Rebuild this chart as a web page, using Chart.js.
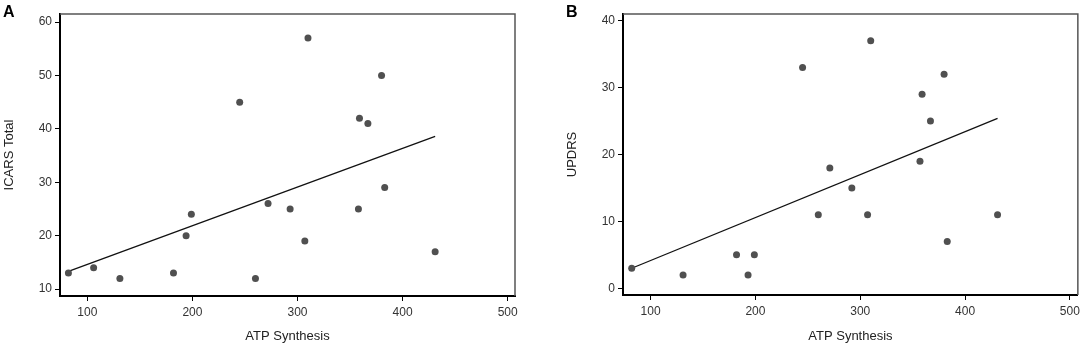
<!DOCTYPE html>
<html lang="en">
  <head>
    <meta charset="UTF-8" />
    <title>ATP Synthesis scatter</title>
    <script src="https://cdn.jsdelivr.net/npm/chart.js"></script>
    <style>
      body {
        margin: 0;
        background: #fff;
        font-family: "Liberation Sans", Arial, sans-serif;
      }
      .wrap {
        position: relative;
        width: 1084px;
        height: 346px;
      }
      .panel {
        position: absolute;
        top: 0;
        height: 346px;
      }
      .tag {
        position: absolute;
        top: 3px;
        font-weight: bold;
        font-size: 16px;
        color: #000;
      }
    </style>
  </head>
  <body>
    <div class="wrap">
      <div class="panel" style="left: 0; width: 540px">
        <canvas id="chartA" width="540" height="346"></canvas>
      </div>
      <div class="panel" style="left: 540px; width: 544px">
        <canvas id="chartB" width="544" height="346"></canvas>
      </div>
      <div class="tag" style="left: 3px">A</div>
      <div class="tag" style="left: 566px">B</div>
    </div>

    <script>
      // panel A: ICARS Total vs ATP synthesis
      const atpA = [82, 106, 131, 182, 194, 199, 245, 260, 272, 293, 307, 310, 358, 359, 367, 380, 383, 431];
      const icars = [13, 14, 12, 13, 20, 24, 45, 12, 26, 25, 19, 57, 25, 42, 41, 50, 29, 17];
      const fitAx = [82, 431];
      const fitAy = [13.3, 38.6];

      // panel B: UPDRS vs ATP synthesis
      const atpB = [82, 131, 182, 193, 199, 245, 260, 271, 292, 307, 310, 357, 359, 367, 380, 383, 431];
      const updrs = [3, 2, 5, 2, 5, 33, 11, 18, 15, 11, 37, 19, 29, 25, 32, 7, 11];
      const fitBx = [82, 431];
      const fitBy = [3.0, 25.4];

      const xTicks = [100, 200, 300, 400, 500];
      const xTitle = "ATP Synthesis";

      const toPts = (xs, ys) => xs.map((x, i) => ({ x: x, y: ys[i] }));

      // top and right edges of the plot box
      const framePlugin = {
        id: "frame",
        afterDraw(chart) {
          const { ctx, chartArea: a } = chart;
          ctx.save();
          ctx.strokeStyle = "#555";
          ctx.lineWidth = 1.5;
          ctx.beginPath();
          ctx.moveTo(a.left, a.top);
          ctx.lineTo(a.right, a.top);
          ctx.lineTo(a.right, a.bottom);
          ctx.stroke();
          ctx.restore();
        },
      };

      function makeChart(id, pts, fit, yTitle, xr, yr, opts) {
        const ctx = document.getElementById(id).getContext("2d");
        return new Chart(ctx, {
          type: "scatter",
          data: {
            datasets: [
              {
                data: pts,
                backgroundColor: "#505050",
                borderColor: "#505050",
                pointRadius: 3.5,
                pointBorderWidth: 0,
              },
              {
                type: "line",
                data: fit,
                borderColor: "#111",
                borderWidth: 1.3,
                pointRadius: 0,
                fill: false,
              },
            ],
          },
          options: {
            responsive: false,
            animation: false,
            layout: { padding: opts.padding },
            plugins: { legend: { display: false }, tooltip: { enabled: false } },
            scales: {
              x: {
                type: "linear",
                min: xr[0],
                max: xr[1],
                afterFit: (s) => { s.height = opts.xh; },
                afterBuildTicks: (s) => { s.ticks = xTicks.map((v) => ({ value: v })); },
                border: { color: "#000", width: 2 },
                grid: { drawOnChartArea: false, tickLength: 5, color: "#000" },
                ticks: {
                  padding: 4,
                  color: "#333",
                  font: { family: "Liberation Sans", size: 12 },
                },
                title: {
                  display: true,
                  text: xTitle,
                  color: "#222",
                  padding: { top: 0, bottom: 2 },
                  font: { family: "Liberation Sans", size: 13 },
                },
              },
              y: {
                type: "linear",
                min: yr[0],
                max: yr[1],
                afterFit: (s) => { s.width = opts.yw; },
                ticks: {
                  stepSize: 10,
                  includeBounds: false,
                  padding: 3,
                  color: "#333",
                  font: { family: "Liberation Sans", size: 12 },
                },
                border: { color: "#000", width: 2 },
                grid: { drawOnChartArea: false, tickLength: 5, color: "#000" },
                title: {
                  display: true,
                  text: yTitle,
                  color: "#222",
                  padding: { top: opts.ytp, bottom: 0 },
                  font: { family: "Liberation Sans", size: 13 },
                },
              },
            },
          },
          plugins: [framePlugin],
        });
      }

      makeChart("chartA", toPts(atpA, icars), toPts(fitAx, fitAy), "ICARS Total",
        [74, 507], [8.7, 61.5],
        { padding: { left: 0, right: 25, top: 14, bottom: 0 }, xh: 50, yw: 60, ytp: 2 });

      makeChart("chartB", toPts(atpB, updrs), toPts(fitBx, fitBy), "UPDRS",
        [73.7, 507.6], [-1, 41],
        { padding: { left: 0, right: 6, top: 14, bottom: 0 }, xh: 51, yw: 83, ytp: 25 });
    </script>
  </body>
</html>
